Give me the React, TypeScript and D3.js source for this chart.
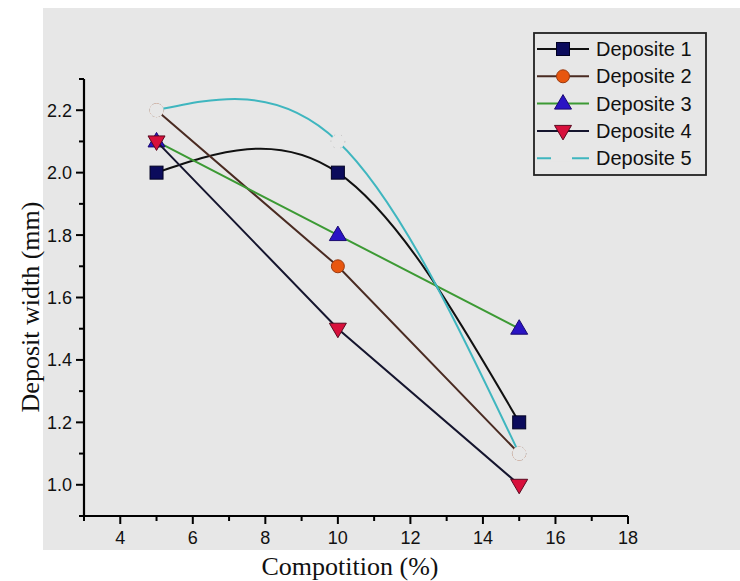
import React, { useEffect, useRef } from "react";
import * as d3 from "d3";

const xValues = [5, 10, 15];
const series1 = [2.0, 2.0, 1.2];
const series2 = [2.2, 1.7, 1.1];
const series3 = [2.1, 1.8, 1.5];
const series4 = [2.1, 1.5, 1.0];
const series5 = [2.2, 2.1, 1.1];
const seriesNames = ["Deposite 1", "Deposite 2", "Deposite 3", "Deposite 4", "Deposite 5"];
const xTicks = [4, 6, 8, 10, 12, 14, 16, 18];
const yTicks = [1.0, 1.2, 1.4, 1.6, 1.8, 2.0, 2.2];

const W = 740, H = 581;
const BG = "#e7e7e7";

type Style = { line: string; fill: string; stroke: string; shape: string; curve: any };
const styles: Style[] = [
  { line: "#111111", fill: "#0b0b5c", stroke: "#000022", shape: "square", curve: d3.curveNatural },
  { line: "#4a2b22", fill: "#e8560e", stroke: "#9a3a10", shape: "circle", curve: d3.curveLinear },
  { line: "#3c9a34", fill: "#2a14c4", stroke: "#1a0a70", shape: "triUp", curve: d3.curveLinear },
  { line: "#15152e", fill: "#d8103c", stroke: "#5a0a20", shape: "triDown", curve: d3.curveLinear },
  { line: "#3fb6bf", fill: BG, stroke: "#b8b8b8", shape: "hollow", curve: d3.curveNatural },
];

export default function App() {
  const ref = useRef<SVGSVGElement>(null);
  useEffect(() => {
    const svg = d3.select(ref.current);
    svg.selectAll("*").remove();
    const x = d3.scaleLinear().domain([3, 18]).range([84, 628]);
    const y = d3.scaleLinear().domain([0.9, 2.3]).range([516, 79]);

    svg.append("rect").attr("x", 0).attr("y", 0).attr("width", W).attr("height", H).attr("fill", "#ffffff");
    svg.append("rect").attr("x", 43).attr("y", 8).attr("width", W - 43).attr("height", 542).attr("fill", BG);

    const data = [series1, series2, series3, series4, series5];

    const drawMarker = (g: any, shape: string, cx: number, cy: number, st: Style) => {
      if (shape === "square") {
        g.append("rect").attr("x", cx - 6.5).attr("y", cy - 6.5).attr("width", 13).attr("height", 13)
          .attr("fill", st.fill).attr("stroke", st.stroke).attr("stroke-width", 1);
      } else if (shape === "circle") {
        g.append("circle").attr("cx", cx).attr("cy", cy).attr("r", 6.5)
          .attr("fill", st.fill).attr("stroke", st.stroke).attr("stroke-width", 1);
      } else if (shape === "triUp") {
        g.append("path").attr("d", `M${cx},${cy - 9}L${cx + 8.5},${cy + 5.5}L${cx - 8.5},${cy + 5.5}Z`)
          .attr("fill", st.fill).attr("stroke", st.stroke).attr("stroke-width", 1);
      } else if (shape === "triDown") {
        g.append("path").attr("d", `M${cx},${cy + 9}L${cx + 8.5},${cy - 5.5}L${cx - 8.5},${cy - 5.5}Z`)
          .attr("fill", st.fill).attr("stroke", st.stroke).attr("stroke-width", 1);
      } else {
        g.append("circle").attr("cx", cx).attr("cy", cy).attr("r", 7)
          .attr("fill", BG).attr("stroke", st.stroke).attr("stroke-width", 0.8).attr("stroke-dasharray", "1.2,6");
      }
    };

    const plot = svg.append("g");
    data.forEach((vals, i) => {
      const st = styles[i];
      const pts: [number, number][] = xValues.map((xv, j) => [x(xv), y(vals[j])]);
      const line = d3.line().curve(st.curve);
      plot.append("path").attr("d", line(pts)).attr("fill", "none").attr("stroke", st.line).attr("stroke-width", 2);
      pts.forEach(([px, py]) => drawMarker(plot, st.shape, px, py, st));
    });

    // axes
    const ax = svg.append("g").attr("stroke", "#000").attr("fill", "none");
    ax.append("line").attr("x1", x(3)).attr("x2", x(18)).attr("y1", y(0.9)).attr("y2", y(0.9)).attr("stroke-width", 2.2);
    ax.append("line").attr("x1", x(3)).attr("x2", x(3)).attr("y1", y(0.9)).attr("y2", y(2.3)).attr("stroke-width", 2.2);
    const xMinor = d3.range(3, 18.01, 1);
    xMinor.forEach((v) => {
      const major = v % 2 === 0;
      ax.append("line").attr("x1", x(v)).attr("x2", x(v)).attr("y1", y(0.9)).attr("y2", y(0.9) + (major ? 8 : 5)).attr("stroke-width", 2);
    });
    const yMinor = d3.range(9, 23.01, 1).map((v) => v / 10);
    yMinor.forEach((v) => {
      const major = Math.round(v * 10) % 2 === 0;
      ax.append("line").attr("x1", x(3)).attr("x2", x(3) - (major ? 8 : 5)).attr("y1", y(v)).attr("y2", y(v)).attr("stroke-width", 2);
    });

    const tickFont = "Liberation Sans, Arial, sans-serif";
    svg.append("g").selectAll("text").data(xTicks).join("text")
      .attr("x", (d) => x(d)).attr("y", y(0.9) + 28).attr("text-anchor", "middle")
      .attr("font-family", tickFont).attr("font-size", 18).attr("fill", "#111").text((d) => String(d));
    svg.append("g").selectAll("text").data(yTicks).join("text")
      .attr("x", x(3) - 12).attr("y", (d) => y(d) + 6.5).attr("text-anchor", "end")
      .attr("font-family", tickFont).attr("font-size", 18).attr("fill", "#111").text((d) => d.toFixed(1));

    svg.append("text").attr("x", 350).attr("y", 575).attr("text-anchor", "middle")
      .attr("font-family", "Liberation Serif, Times New Roman, serif").attr("font-size", 26).attr("fill", "#111")
      .text("Compotition (%)");
    svg.append("text").attr("transform", `translate(39,307) rotate(-90)`).attr("text-anchor", "middle")
      .attr("font-family", "Liberation Serif, Times New Roman, serif").attr("font-size", 26).attr("fill", "#111")
      .text("Deposit width (mm)");

    // legend
    const lg = svg.append("g");
    lg.append("rect").attr("x", 534).attr("y", 33).attr("width", 172).attr("height", 142)
      .attr("fill", BG).attr("stroke", "#222").attr("stroke-width", 1.8);
    seriesNames.forEach((name, i) => {
      const st = styles[i];
      const ly = 49 + i * 27.3;
      lg.append("line").attr("x1", 537).attr("x2", 589).attr("y1", ly).attr("y2", ly)
        .attr("stroke", st.line).attr("stroke-width", 2);
      if (st.shape === "hollow") {
        lg.append("rect").attr("x", 551).attr("y", ly - 3).attr("width", 21).attr("height", 6).attr("fill", BG);
      } else {
        drawMarker(lg, st.shape, 563, ly, st);
      }
      lg.append("text").attr("x", 596).attr("y", ly + 7).attr("font-family", tickFont).attr("font-size", 20)
        .attr("fill", "#111").text(name);
    });
  }, []);
  return (
    <svg ref={ref} width={W} height={H} style={{ position: "absolute", left: 0, top: 0 }} />
  );
}
